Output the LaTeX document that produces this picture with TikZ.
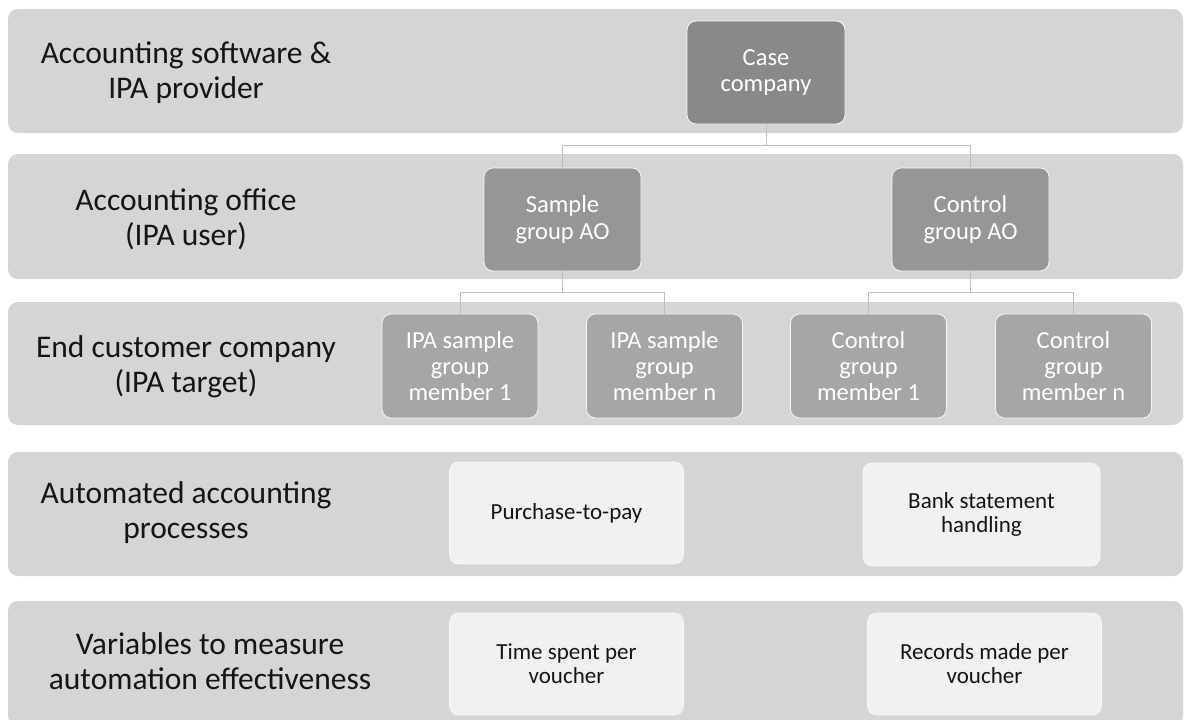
\documentclass[tikz,border=0pt]{standalone}
\usepackage{fontspec}
\setmainfont{Carlito}
\definecolor{bandgray}{HTML}{D5D5D5}
\definecolor{lvA}{HTML}{898989}
\definecolor{lvB}{HTML}{969696}
\definecolor{lvC}{HTML}{A6A6A6}
\definecolor{procfill}{HTML}{F1F1F1}
\definecolor{linkgray}{HTML}{BEBEBE}
\definecolor{labtext}{HTML}{151515}
\begin{document}
\begin{tikzpicture}[x=1pt,y=-1pt,
  band/.style={fill=bandgray, rounded corners=10pt},
  lab/.style={align=center, text=labtext, inner sep=0pt, font=\fontsize{31.5}{35}\selectfont},
  orgbox/.style={rounded corners=9pt, draw=white!80!bandgray, line width=0.8pt, align=center,
    text=white, inner sep=0pt, font=\fontsize{24.5}{26.2}\selectfont},
  lvone/.style={orgbox, fill=lvA, minimum width=158pt, minimum height=103pt},
  lvtwo/.style={orgbox, fill=lvB, minimum width=157pt, minimum height=103pt},
  lvthree/.style={orgbox, fill=lvC, minimum width=156pt, minimum height=104pt},
  procbox/.style={rounded corners=9pt, fill=procfill, draw=white!60!procfill, line width=0.6pt,
    align=center, text=labtext, inner sep=0pt, minimum width=234pt, minimum height=102pt,
    font=\fontsize{23}{24}\selectfont},
  link/.style={draw=linkgray, line width=1pt}
]
\useasboundingbox (0,0) rectangle (1184,720);
\begin{scope}
\clip (0,0) rectangle (1184,720);
\fill[band] (8,9) rectangle (1183,133);
\fill[band] (8,154) rectangle (1183,279);
\fill[band] (8,302) rectangle (1183,425);
\fill[band] (8,452) rectangle (1183,576);
\fill[band] (8,601) rectangle (1183,726);
\end{scope}

% row labels
\node[lab] (labA) at (186,73) {Accounting software \&\\IPA provider};
\node[lab] (labB) at (186,219) {Accounting office\\(IPA user)};
\node[lab] (labC) at (186,367) {End customer company\\(IPA target)};
\node[lab] (labD) at (186,513) {Automated accounting\\processes};
\node[lab] (labE) at (210,661) {Variables to measure\\automation effectiveness};

% hierarchy
\node[lvone] (case) at (766,72.5) {Case\\company};
\node[lvtwo] (sample) at (562.5,219.5) {Sample\\group AO};
\node[lvtwo] (control) at (970.5,219.5) {Control\\group AO};
\node[lvthree] (sm1) at (460,366) {IPA sample\\group\\member 1};
\node[lvthree] (smn) at (664.5,366) {IPA sample\\group\\member n};
\node[lvthree] (cm1) at (868.5,366) {Control\\group\\member 1};
\node[lvthree] (cmn) at (1073.5,366) {Control\\group\\member n};

\coordinate (jA) at (766,145);
\coordinate (jB) at (562.5,292);
\coordinate (jC) at (970.5,292);
\draw[link] (case.south) -- (jA);
\draw[link] (jA) -| (sample.north);
\draw[link] (jA) -| (control.north);
\draw[link] (sample.south) -- (jB);
\draw[link] (jB) -| (sm1.north);
\draw[link] (jB) -| (smn.north);
\draw[link] (control.south) -- (jC);
\draw[link] (jC) -| (cm1.north);
\draw[link] (jC) -| (cmn.north);

% processes and variables
\node[procbox] (ptp) at (566.5,513) {Purchase-to-pay};
\node[procbox, minimum width=237pt, minimum height=103pt] (bank) at (981.5,514.5) {Bank statement\\handling};
\node[procbox] (time) at (566.5,664) {Time spent per\\voucher};
\node[procbox] (rec) at (984.5,664) {Records made per\\voucher};
\end{tikzpicture}
\end{document}
